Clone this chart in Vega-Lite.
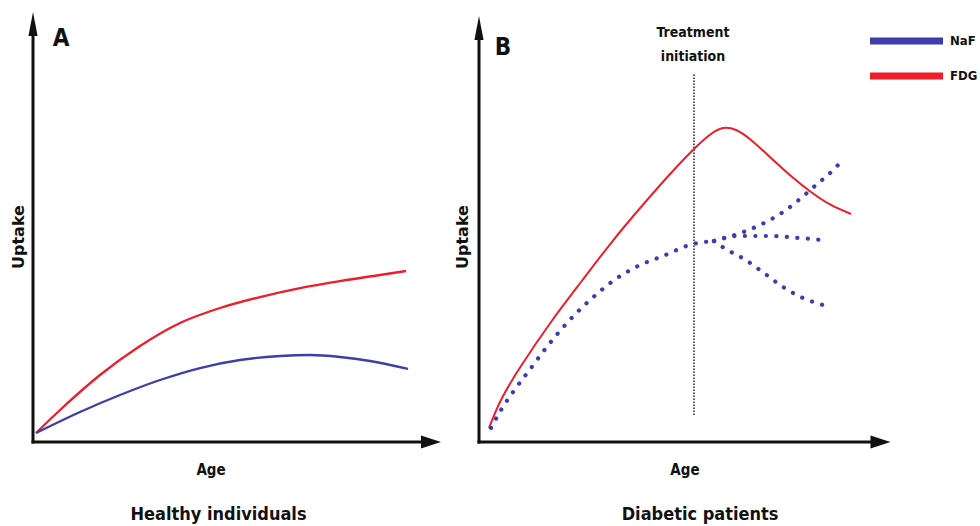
{
  "$schema": "https://vega.github.io/schema/vega-lite/v6.json",
  "padding": 0,
  "spacing": 0,
  "config": {"view": {"stroke": null}},
  "datasets": {
    "curves": [
      {"panel": "A", "series": "FDG", "x": 0.74, "y": 2.09},
      {"panel": "A", "series": "FDG", "x": 6.62, "y": 7.44},
      {"panel": "A", "series": "FDG", "x": 16.42, "y": 15.58},
      {"panel": "A", "series": "FDG", "x": 26.23, "y": 22.33},
      {"panel": "A", "series": "FDG", "x": 36.03, "y": 27.67},
      {"panel": "A", "series": "FDG", "x": 45.83, "y": 31.16},
      {"panel": "A", "series": "FDG", "x": 55.64, "y": 33.72},
      {"panel": "A", "series": "FDG", "x": 65.44, "y": 35.81},
      {"panel": "A", "series": "FDG", "x": 75.25, "y": 37.44},
      {"panel": "A", "series": "FDG", "x": 85.05, "y": 38.84},
      {"panel": "A", "series": "FDG", "x": 91.42, "y": 39.77},
      {"panel": "A", "series": "NaF", "x": 0.74, "y": 2.09},
      {"panel": "A", "series": "NaF", "x": 11.52, "y": 6.98},
      {"panel": "A", "series": "NaF", "x": 21.32, "y": 10.93},
      {"panel": "A", "series": "NaF", "x": 31.13, "y": 14.42},
      {"panel": "A", "series": "NaF", "x": 40.93, "y": 17.21},
      {"panel": "A", "series": "NaF", "x": 50.74, "y": 19.07},
      {"panel": "A", "series": "NaF", "x": 60.54, "y": 20.0},
      {"panel": "A", "series": "NaF", "x": 67.89, "y": 20.23},
      {"panel": "A", "series": "NaF", "x": 75.25, "y": 19.77},
      {"panel": "A", "series": "NaF", "x": 82.6, "y": 18.84},
      {"panel": "A", "series": "NaF", "x": 91.91, "y": 16.98},
      {"panel": "B", "series": "FDG", "x": 2.43, "y": 3.26},
      {"panel": "B", "series": "FDG", "x": 5.35, "y": 9.77},
      {"panel": "B", "series": "FDG", "x": 10.22, "y": 17.67},
      {"panel": "B", "series": "FDG", "x": 17.52, "y": 27.91},
      {"panel": "B", "series": "FDG", "x": 24.82, "y": 37.21},
      {"panel": "B", "series": "FDG", "x": 32.12, "y": 46.28},
      {"panel": "B", "series": "FDG", "x": 39.42, "y": 54.65},
      {"panel": "B", "series": "FDG", "x": 46.72, "y": 62.56},
      {"panel": "B", "series": "FDG", "x": 52.8, "y": 68.6},
      {"panel": "B", "series": "FDG", "x": 56.45, "y": 71.63},
      {"panel": "B", "series": "FDG", "x": 59.37, "y": 73.02},
      {"panel": "B", "series": "FDG", "x": 62.53, "y": 72.56},
      {"panel": "B", "series": "FDG", "x": 66.18, "y": 70.23},
      {"panel": "B", "series": "FDG", "x": 71.05, "y": 66.05},
      {"panel": "B", "series": "FDG", "x": 75.91, "y": 61.86},
      {"panel": "B", "series": "FDG", "x": 80.78, "y": 58.14},
      {"panel": "B", "series": "FDG", "x": 85.64, "y": 55.12},
      {"panel": "B", "series": "FDG", "x": 90.51, "y": 53.02},
      {"panel": "B", "series": "NaF trunk", "x": 2.92, "y": 3.26},
      {"panel": "B", "series": "NaF trunk", "x": 5.35, "y": 7.44},
      {"panel": "B", "series": "NaF trunk", "x": 8.27, "y": 11.63},
      {"panel": "B", "series": "NaF trunk", "x": 11.92, "y": 16.28},
      {"panel": "B", "series": "NaF trunk", "x": 16.3, "y": 21.86},
      {"panel": "B", "series": "NaF trunk", "x": 21.17, "y": 27.44},
      {"panel": "B", "series": "NaF trunk", "x": 26.76, "y": 32.79},
      {"panel": "B", "series": "NaF trunk", "x": 32.6, "y": 37.44},
      {"panel": "B", "series": "NaF trunk", "x": 38.69, "y": 40.93},
      {"panel": "B", "series": "NaF trunk", "x": 44.77, "y": 43.26},
      {"panel": "B", "series": "NaF trunk", "x": 52.07, "y": 46.05},
      {"panel": "B", "series": "NaF trunk", "x": 57.18, "y": 46.74},
      {"panel": "B", "series": "NaF rise", "x": 57.18, "y": 46.74},
      {"panel": "B", "series": "NaF rise", "x": 59.85, "y": 47.44},
      {"panel": "B", "series": "NaF rise", "x": 64.96, "y": 49.07},
      {"panel": "B", "series": "NaF rise", "x": 69.83, "y": 51.16},
      {"panel": "B", "series": "NaF rise", "x": 74.7, "y": 53.95},
      {"panel": "B", "series": "NaF rise", "x": 78.35, "y": 56.74},
      {"panel": "B", "series": "NaF rise", "x": 82.0, "y": 59.77},
      {"panel": "B", "series": "NaF rise", "x": 85.16, "y": 62.33},
      {"panel": "B", "series": "NaF rise", "x": 88.08, "y": 65.12},
      {"panel": "B", "series": "NaF plateau", "x": 57.18, "y": 46.74},
      {"panel": "B", "series": "NaF plateau", "x": 62.53, "y": 47.91},
      {"panel": "B", "series": "NaF plateau", "x": 70.32, "y": 47.91},
      {"panel": "B", "series": "NaF plateau", "x": 78.1, "y": 47.44},
      {"panel": "B", "series": "NaF plateau", "x": 83.21, "y": 46.98},
      {"panel": "B", "series": "NaF decline", "x": 57.18, "y": 46.74},
      {"panel": "B", "series": "NaF decline", "x": 59.61, "y": 45.12},
      {"panel": "B", "series": "NaF decline", "x": 64.48, "y": 42.56},
      {"panel": "B", "series": "NaF decline", "x": 69.34, "y": 39.3},
      {"panel": "B", "series": "NaF decline", "x": 73.97, "y": 36.05},
      {"panel": "B", "series": "NaF decline", "x": 78.83, "y": 33.49},
      {"panel": "B", "series": "NaF decline", "x": 83.7, "y": 31.86}
    ],
    "axes": [
      {"panel": "A", "x": 0, "y": 0, "x2": 0, "y2": 95.5},
      {"panel": "A", "x": 0, "y": 0, "x2": 96.5, "y2": 0},
      {"panel": "B", "x": 0, "y": 0, "x2": 0, "y2": 94.5},
      {"panel": "B", "x": 0, "y": 0, "x2": 96.5, "y2": 0}
    ],
    "upArrows": [
      {"panel": "A", "x": 0, "y": 97.21},
      {"panel": "B", "x": 0, "y": 96.28}
    ],
    "rightArrows": [
      {"panel": "A", "x": 97.55, "y": 0},
      {"panel": "B", "x": 97.69, "y": 0}
    ],
    "treatment": [
      {"x": 52.31, "y": 6.28, "y2": 85.81}
    ],
    "legendLines": [
      {"series": "NaF", "x": 95.13, "x2": 112.9, "y": 93.26},
      {"series": "FDG", "x": 95.13, "x2": 112.9, "y": 85.12}
    ],
    "texts": [
      {"panel": "A", "kind": "panel", "label": "A", "x": 6.86, "y": 93.72},
      {"panel": "A", "kind": "ylab", "label": "Uptake", "x": -3.43, "y": 47.67},
      {"panel": "A", "kind": "xlab", "label": "Age", "x": 43.63, "y": -6.51},
      {"panel": "A", "kind": "title", "label": "Healthy individuals", "x": 45.47, "y": -16.98},
      {"panel": "B", "kind": "panel", "label": "B", "x": 5.84, "y": 91.63},
      {"panel": "B", "kind": "ylab", "label": "Uptake", "x": -3.89, "y": 47.67},
      {"panel": "B", "kind": "xlab", "label": "Age", "x": 50.12, "y": -6.51},
      {"panel": "B", "kind": "title", "label": "Diabetic patients", "x": 53.77, "y": -16.98},
      {"panel": "B", "kind": "note", "label": "Treatment", "x": 52.07, "y": 95.12},
      {"panel": "B", "kind": "note", "label": "initiation", "x": 52.07, "y": 89.53},
      {"panel": "B", "kind": "legend", "label": "NaF", "x": 114.6, "y": 93.26},
      {"panel": "B", "kind": "legend", "label": "FDG", "x": 114.6, "y": 85.12}
    ]
  },
  "hconcat": [
    {
      "width": 455,
      "height": 526,
      "encoding": {
        "x": {"field": "x", "type": "quantitative", "scale": {"domain": [-8.09, 103.43], "nice": false, "zero": false}, "axis": null},
        "y": {"field": "y", "type": "quantitative", "scale": {"domain": [-19.53, 102.79], "nice": false, "zero": false}, "axis": null}
      },
      "layer": [
        {
          "data": {"name": "axes"},
          "transform": [{"filter": "datum.panel === 'A'"}],
          "mark": {"type": "rule", "color": "#111111", "strokeWidth": 3, "strokeCap": "square"},
          "encoding": {"x2": {"field": "x2"}, "y2": {"field": "y2"}}
        },
        {
          "data": {"name": "upArrows"},
          "transform": [{"filter": "datum.panel === 'A'"}],
          "mark": {"type": "point", "shape": "M0,-1L0.38,1L-0.38,1Z", "size": 576, "filled": true, "color": "#111111", "opacity": 1}
        },
        {
          "data": {"name": "rightArrows"},
          "transform": [{"filter": "datum.panel === 'A'"}],
          "mark": {"type": "point", "shape": "M1,0L-1,-0.65L-1,0.65Z", "size": 400, "filled": true, "color": "#111111", "opacity": 1}
        },
        {
          "data": {"name": "curves"},
          "transform": [{"filter": "datum.panel === 'A'"}],
          "mark": {"type": "line", "interpolate": "monotone", "strokeWidth": 2.3},
          "encoding": {
            "color": {"field": "series", "type": "nominal", "scale": {"domain": ["NaF", "FDG"], "range": ["#3d3dab", "#ee1d2b"]}, "legend": null}
          }
        },
        {
          "data": {"name": "texts"},
          "transform": [{"filter": "datum.panel === 'A' && datum.kind === 'panel'"}],
          "mark": {"type": "text", "font": "DejaVu Sans Condensed, Roboto", "fontWeight": "bold", "fontSize": 24, "color": "#111111"},
          "encoding": {"text": {"field": "label"}}
        },
        {
          "data": {"name": "texts"},
          "transform": [{"filter": "datum.panel === 'A' && datum.kind === 'ylab'"}],
          "mark": {"type": "text", "font": "DejaVu Sans", "fontWeight": "bold", "fontSize": 16, "angle": 270, "color": "#111111"},
          "encoding": {"text": {"field": "label"}}
        },
        {
          "data": {"name": "texts"},
          "transform": [{"filter": "datum.panel === 'A' && datum.kind === 'xlab'"}],
          "mark": {"type": "text", "font": "DejaVu Sans Condensed, Roboto", "fontWeight": "bold", "fontSize": 15, "color": "#111111"},
          "encoding": {"text": {"field": "label"}}
        },
        {
          "data": {"name": "texts"},
          "transform": [{"filter": "datum.panel === 'A' && datum.kind === 'title'"}],
          "mark": {"type": "text", "font": "DejaVu Sans Condensed, Roboto", "fontWeight": "bold", "fontSize": 18, "color": "#111111"},
          "encoding": {"text": {"field": "label"}}
        }
      ]
    },
    {
      "width": 525,
      "height": 526,
      "encoding": {
        "x": {"field": "x", "type": "quantitative", "scale": {"domain": [-5.596, 122.14], "nice": false, "zero": false}, "axis": null},
        "y": {"field": "y", "type": "quantitative", "scale": {"domain": [-19.53, 102.79], "nice": false, "zero": false}, "axis": null}
      },
      "layer": [
        {
          "data": {"name": "axes"},
          "transform": [{"filter": "datum.panel === 'B'"}],
          "mark": {"type": "rule", "color": "#111111", "strokeWidth": 3, "strokeCap": "square"},
          "encoding": {"x2": {"field": "x2"}, "y2": {"field": "y2"}}
        },
        {
          "data": {"name": "upArrows"},
          "transform": [{"filter": "datum.panel === 'B'"}],
          "mark": {"type": "point", "shape": "M0,-1L0.38,1L-0.38,1Z", "size": 576, "filled": true, "color": "#111111", "opacity": 1}
        },
        {
          "data": {"name": "rightArrows"},
          "transform": [{"filter": "datum.panel === 'B'"}],
          "mark": {"type": "point", "shape": "M1,0L-1,-0.65L-1,0.65Z", "size": 400, "filled": true, "color": "#111111", "opacity": 1}
        },
        {
          "data": {"name": "treatment"},
          "mark": {"type": "rule", "color": "#222222", "strokeWidth": 1.5, "strokeDash": [1.5, 1.5]},
          "encoding": {"y2": {"field": "y2"}}
        },
        {
          "data": {"name": "curves"},
          "transform": [{"filter": "datum.panel === 'B' && datum.series === 'FDG'"}],
          "mark": {"type": "line", "interpolate": "natural", "strokeWidth": 2, "color": "#ee1d2b"}
        },
        {
          "data": {"name": "curves"},
          "transform": [{"filter": "datum.panel === 'B' && datum.series !== 'FDG'"}],
          "mark": {"type": "line", "interpolate": "monotone", "strokeWidth": 4.2, "strokeCap": "round", "strokeDash": [0.1, 10.4], "color": "#3d3dab"},
          "encoding": {"detail": {"field": "series"}}
        },
        {
          "data": {"name": "legendLines"},
          "mark": {"type": "rule", "strokeWidth": 7},
          "encoding": {
            "x2": {"field": "x2"},
            "color": {"field": "series", "type": "nominal", "scale": {"domain": ["NaF", "FDG"], "range": ["#3535b5", "#fe0000"]}, "legend": null}
          }
        },
        {
          "data": {"name": "texts"},
          "transform": [{"filter": "datum.panel === 'B' && datum.kind === 'panel'"}],
          "mark": {"type": "text", "font": "DejaVu Sans Condensed, Roboto", "fontWeight": "bold", "fontSize": 24, "color": "#111111"},
          "encoding": {"text": {"field": "label"}}
        },
        {
          "data": {"name": "texts"},
          "transform": [{"filter": "datum.panel === 'B' && datum.kind === 'ylab'"}],
          "mark": {"type": "text", "font": "DejaVu Sans", "fontWeight": "bold", "fontSize": 16, "angle": 270, "color": "#111111"},
          "encoding": {"text": {"field": "label"}}
        },
        {
          "data": {"name": "texts"},
          "transform": [{"filter": "datum.panel === 'B' && datum.kind === 'xlab'"}],
          "mark": {"type": "text", "font": "DejaVu Sans Condensed, Roboto", "fontWeight": "bold", "fontSize": 15, "color": "#111111"},
          "encoding": {"text": {"field": "label"}}
        },
        {
          "data": {"name": "texts"},
          "transform": [{"filter": "datum.panel === 'B' && datum.kind === 'title'"}],
          "mark": {"type": "text", "font": "DejaVu Sans Condensed, Roboto", "fontWeight": "bold", "fontSize": 18, "color": "#111111"},
          "encoding": {"text": {"field": "label"}}
        },
        {
          "data": {"name": "texts"},
          "transform": [{"filter": "datum.panel === 'B' && datum.kind === 'note'"}],
          "mark": {"type": "text", "font": "DejaVu Sans Condensed, Roboto", "fontWeight": "bold", "fontSize": 14, "color": "#111111"},
          "encoding": {"text": {"field": "label"}}
        },
        {
          "data": {"name": "texts"},
          "transform": [{"filter": "datum.panel === 'B' && datum.kind === 'legend'"}],
          "mark": {"type": "text", "font": "DejaVu Sans Condensed, Roboto", "fontWeight": "bold", "fontSize": 13, "align": "left", "color": "#111111"},
          "encoding": {"text": {"field": "label"}}
        }
      ]
    }
  ]
}
